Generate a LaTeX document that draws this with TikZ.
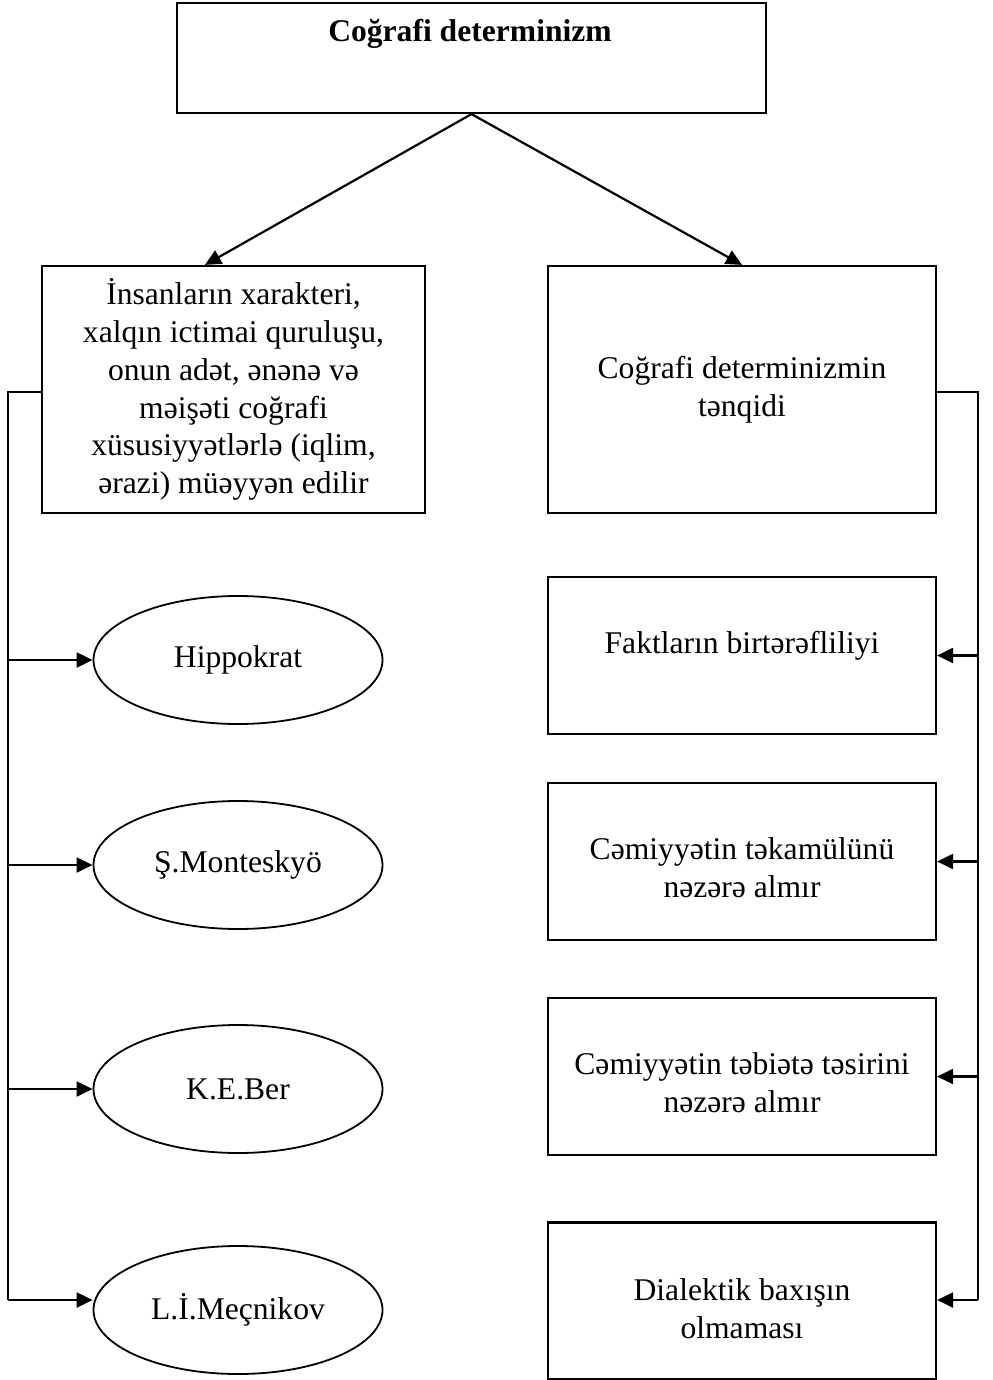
\documentclass[tikz,border=0pt]{standalone}
\usepackage{fontspec}
\setmainfont{Liberation Serif}
\usetikzlibrary{shapes.geometric,arrows.meta}
\begin{document}
\begin{tikzpicture}[x=0.5pt,y=-0.5pt,
  font=\fontsize{15.8pt}{18.9pt}\selectfont,
  box/.style={draw,line width=1.1pt,rectangle,inner sep=0pt,align=center},
  rb/.style={box,minimum width=194pt,minimum height=78.5pt},
  oval/.style={draw,line width=0.9pt,ellipse,minimum width=144.5pt,minimum height=64pt,inner sep=0pt},
  conn/.style={line width=1.1pt},
  arr/.style={line width=1.1pt,-{Triangle[length=8pt,width=7.5pt]}}]
\useasboundingbox[fill=white] (0,0) rectangle (992,1380);
% top
\node[box,minimum width=294.5pt,minimum height=55pt] (top) at (471.5,58) {};
\node[font=\fontsize{15.8pt}{18.9pt}\selectfont\bfseries] (toptext) at (470,34) {Coğrafi determinizm};
% level 2
\node[box,minimum width=191.5pt,minimum height=123.5pt] (lbox) at (233.5,389.5)
  {İnsanların xarakteri,\\xalqın ictimai quruluşu,\\onun adət, ənənə və\\məişəti coğrafi\\xüsusiyyətlərlə (iqlim,\\ərazi) müəyyən edilir};
\node[box,minimum width=194pt,minimum height=123.5pt] (rbox) at (742,389.5)
  {Coğrafi determinizmin\\tənqidi};
\coordinate (lt) at (205,266);
\draw[arr] (top.south) -- (lbox.north -| lt);
\draw[arr] (top.south) -- (rbox.north);
% ellipses
\node[oval] (e1) at (238,660) {Hippokrat};
\node[oval] (e2) at (238,865) {Ş.Monteskyö};
\node[oval] (e3) at (238,1089) {K.E.Ber};
\node[oval] (e4) at (238,1310) {L.İ.Meçnikov};
% right boxes
\node[rb,label={[name=r1t,yshift=5pt]center:Faktların birtərəfliliyi}] (r1) at (742,655.5) {};
\node[rb,label={[name=r2t,yshift=-3pt,align=center]center:Cəmiyyətin təkamülünü\\nəzərə almır}] (r2) at (742,861.5) {};
\node[rb,label={[name=r3t,yshift=-3.2pt,align=center]center:Cəmiyyətin təbiətə təsirini\\nəzərə almır}] (r3) at (742,1076.5) {};
\node[rb,label={[name=r4t,yshift=-4pt,align=center]center:Dialektik baxışın\\olmaması}] (r4) at (742,1301) {};
% left bus
\coordinate (L0) at (8,392);
\coordinate (L4) at (8,1300);
\draw[conn] (lbox.west |- L0) -- (L0) -- (L4);
\draw[arr] (e1.west -| L0) -- (e1.west);
\draw[arr] (e2.west -| L0) -- (e2.west);
\draw[arr] (e3.west -| L0) -- (e3.west);
\draw[arr] (L4) -- (L4 -| e4.west);
% right bus
\coordinate (R0) at (978,392);
\coordinate (R4) at (978,1300);
\draw[conn] (rbox.east |- R0) -- (R0) -- (R4);
\draw[arr] (r1.east -| R0) -- (r1.east);
\draw[arr] (r2.east -| R0) -- (r2.east);
\draw[arr] (r3.east -| R0) -- (r3.east);
\draw[arr] (R4) -- (R4 -| r4.east);
\end{tikzpicture}
\end{document}
